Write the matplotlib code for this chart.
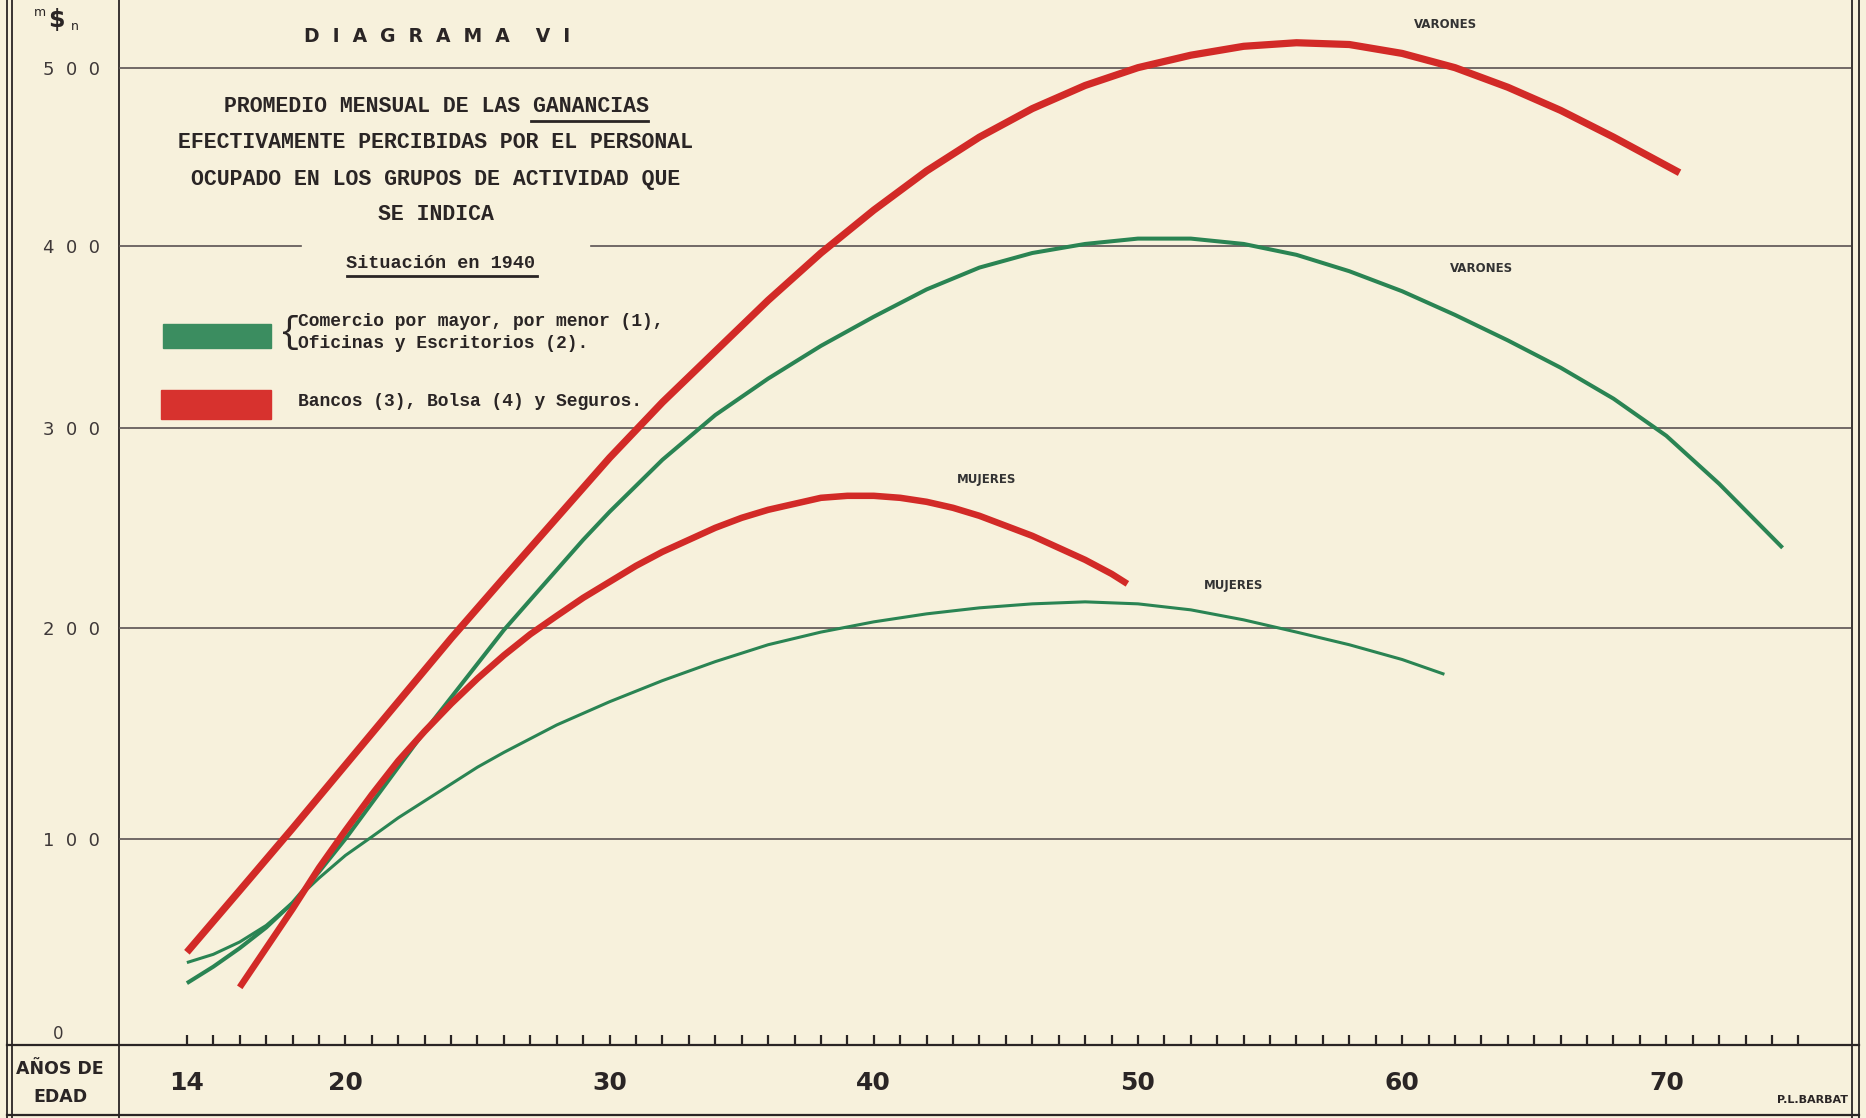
import numpy as np
import matplotlib
matplotlib.use("Agg")
from matplotlib import pyplot as plt
from matplotlib.patches import Rectangle

W, H = 1866, 1118

PAPER = '#f7f1dc'
INK = '#2a2525'
GRID = '#5a5252'
RED = '#d22a27'
GREEN = '#2a8453'

ages_bank_men = [14, 16, 18, 20, 22, 24, 26, 28, 30, 32, 34, 36, 38, 40, 42, 44, 46, 48,
                 50, 52, 54, 56, 58, 60, 62, 64, 66, 68, 70.5]
earn_bank_men = [45, 75, 105, 135, 165, 195, 225, 255, 285, 314, 342, 370, 396, 420, 442, 461, 477, 490,
                 500, 507, 512, 514, 513, 508, 500, 489, 476, 461, 441]

ages_bank_women = [16, 17, 18, 19, 20, 21, 22, 23, 24, 25, 26, 27, 28, 29, 30, 31, 32, 33,
                   34, 35, 36, 37, 38, 39, 40, 41, 42, 43, 44, 45, 46, 47, 48, 49, 49.6]
earn_bank_women = [28, 47, 66, 86, 104, 121, 137, 151, 164, 176, 187, 197, 206, 215, 223, 231, 238, 244,
                   250, 255, 259, 262, 265, 266, 266, 265, 263, 260, 256, 251, 246, 240, 234, 227, 222]

ages_trade_men = [14, 15, 16, 17, 18, 19, 20, 21, 22, 23, 24, 25, 26, 27, 28, 29, 30, 31, 32, 34,
                  36, 38, 40, 42, 44, 46, 48, 50, 52, 54, 56, 58, 60, 62, 64, 66, 68, 70, 72, 74.4]
earn_trade_men = [30, 38, 47, 57, 69, 84, 100, 117, 134, 151, 167, 183, 199, 214, 229, 244, 258, 271, 284, 307,
                  327, 345, 361, 376, 388, 396, 401, 404, 404, 401, 395, 386, 375, 362, 348, 333, 316, 296, 272, 240]

ages_trade_women = [14, 15, 16, 17, 18, 19, 20, 21, 22, 23, 24, 25, 26, 28, 30, 32, 34, 36, 38,
                    40, 42, 44, 46, 48, 50, 52, 54, 56, 58, 60, 61.6]
earn_trade_women = [40, 44, 50, 58, 69, 81, 92, 101, 110, 118, 126, 134, 141, 154, 165, 175, 184, 192, 198,
                    203, 207, 210, 212, 213, 212, 209, 204, 198, 192, 185, 178]

y_tick_values = [100, 200, 300, 400, 500]
y_tick_labels = ['1  0  0', '2  0  0', '3  0  0', '4  0  0', '5  0  0']
x_tick_values = [14, 20, 30, 40, 50, 60, 70]
x_tick_labels = ['14', '20', '30', '40', '50', '60', '70']

# the hand drawn grid is not evenly spaced: value -> height above the base line (px)
SCALE_VALUES = [-100, 0, 100, 200, 300, 400, 500, 600]
SCALE_HEIGHTS = [-206, 0, 206, 417, 617, 799, 977, 1155]


def forward(v):
    return np.interp(v, SCALE_VALUES, SCALE_HEIGHTS)


def inverse(h):
    return np.interp(h, SCALE_HEIGHTS, SCALE_VALUES)


fig = plt.figure(figsize=(W / 100, H / 100), dpi=100, facecolor=PAPER)

deco = fig.add_axes([0, 0, 1, 1], zorder=0)
deco.set_xlim(0, W)
deco.set_ylim(H, 0)
deco.axis('off')

ax = fig.add_axes([119 / W, 73 / H, 1732 / W, 1045 / H], zorder=1)
ax.set_facecolor('none')
ax.set_yscale('function', functions=(forward, inverse))
ax.set_xlim(11.43, 76.99)
ax.set_ylim(0, 538)
for s in ax.spines.values():
    s.set_visible(False)

# horizontal rules
for v in y_tick_values:
    if v == 400:
        ax.axhline(v, xmin=0, xmax=0.105, color=GRID, lw=1.2)
        ax.axhline(v, xmin=0.2725, xmax=1, color=GRID, lw=1.2)
    else:
        ax.axhline(v, color=GRID, lw=1.2)

style = dict(solid_capstyle='butt', solid_joinstyle='round')
ax.plot(ages_trade_women, earn_trade_women, color=GREEN, lw=2.2, **style)
ax.plot(ages_trade_men, earn_trade_men, color=GREEN, lw=2.9, **style)
ax.plot(ages_bank_women, earn_bank_women, color=RED, lw=4.7, **style)
ax.plot(ages_bank_men, earn_bank_men, color=RED, lw=5.2, **style)

ax.set_yticks(y_tick_values, labels=y_tick_labels)
ax.tick_params(axis='y', length=0, pad=34.5, labelsize=13, labelcolor='#3e3838')
for lab in ax.get_yticklabels():
    lab.set_ha('center')

ax.set_xticks(x_tick_values, labels=x_tick_labels)
ax.set_xticks(range(14, 76), minor=True)
ax.tick_params(axis='x', which='both', direction='in', length=7, width=1.6, color=INK)
ax.tick_params(axis='x', which='major', pad=19, labelsize=18, labelcolor=INK)
for lab in ax.get_xticklabels():
    lab.set_family(['Liberation Sans Narrow', 'DejaVu Sans'])
    lab.set_fontweight('bold')

# frame of the sheet
for x in [7, 12, 119, 1852, 1859]:
    deco.plot([x, x], [0, H], color=INK, lw=1.3)
deco.plot([7, 1859], [1045, 1045], color=INK, lw=1.6)
deco.plot([7, 1859], [1115, 1115], color=INK, lw=1.6)

deco.text(58, 1034, '0', ha='center', va='center', fontsize=12, color='#3e3838')
deco.text(40, 13, 'm', ha='center', va='center', fontsize=9, color=INK)
deco.text(56, 20, '$', ha='center', va='center', fontsize=17, fontweight='bold', color=INK)
deco.text(75, 27, 'n', ha='center', va='center', fontsize=9, color=INK)
deco.text(60, 1069, 'AÑOS DE', ha='center', va='center', fontsize=12.5, fontweight='bold', color=INK)
deco.text(60, 1097, 'EDAD', ha='center', va='center', fontsize=12.5, fontweight='bold', color=INK)
deco.text(1848, 1100, 'P.L.BARBAT', ha='right', va='center', fontsize=8, fontweight='bold', color=INK)

# title block
deco.text(437, 36, 'D  I  A  G  R  A  M  A    V  I', ha='center', va='center',
          fontsize=13.5, fontweight='bold', color=INK)
mono = ['Liberation Mono', 'DejaVu Sans Mono']
title_lines = ['PROMEDIO MENSUAL DE LAS GANANCIAS',
               'EFECTIVAMENTE PERCIBIDAS POR EL PERSONAL',
               'OCUPADO EN LOS GRUPOS DE ACTIVIDAD QUE',
               'SE INDICA']
for txt, y in zip(title_lines, [107, 143, 180, 215]):
    deco.text(436, y, txt, ha='center', va='center', family=mono, fontsize=15.5,
              fontweight='bold', color=INK)
deco.plot([531, 648], [121, 121], color=INK, lw=2)
deco.text(441, 264, 'Situación en 1940', ha='center', va='center', family=mono, fontsize=13.3,
          fontweight='bold', color=INK)
deco.plot([347, 537], [276, 276], color=INK, lw=2)

# legend
deco.add_patch(Rectangle((163, 324), 108, 24, color='#3b8d60', zorder=2))
deco.add_patch(Rectangle((161, 390), 110, 29, color='#d7322e', zorder=2))
deco.text(290, 333, '{', ha='center', va='center', family=mono, fontsize=26, color=INK)
deco.text(298, 322, 'Comercio por mayor, por menor (1),', ha='left', va='center', family=mono,
          fontsize=13, fontweight='bold', color=INK)
deco.text(298, 343, 'Oficinas y Escritorios (2).', ha='left', va='center', family=mono,
          fontsize=13, fontweight='bold', color=INK)
deco.text(298, 402, 'Bancos (3), Bolsa (4) y Seguros.', ha='left', va='center', family=mono,
          fontsize=13, fontweight='bold', color=INK)

# curve labels
for txt, x, y in [('VARONES', 1446, 24), ('VARONES', 1482, 268),
                  ('MUJERES', 987, 480), ('MUJERES', 1234, 585)]:
    deco.text(x, y, txt, ha='center', va='center', fontsize=8.5, fontweight='bold', color='#333')

fig.savefig('out.png', dpi=100, facecolor=PAPER)
